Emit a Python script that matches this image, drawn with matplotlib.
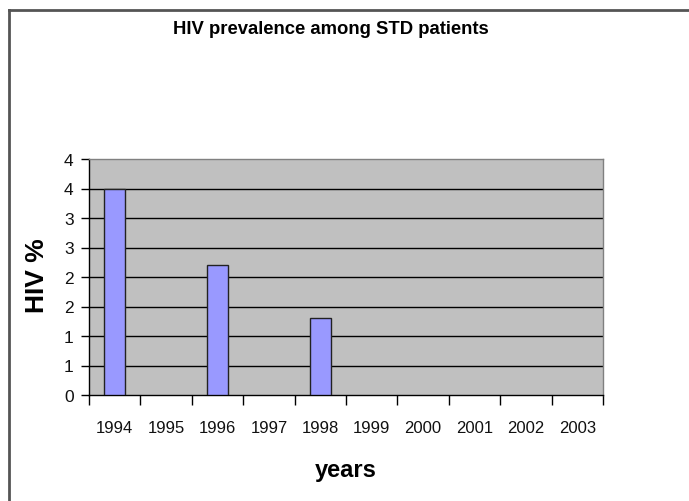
import numpy as np
import matplotlib
matplotlib.use('Agg')
import matplotlib.pyplot as plt
from matplotlib.lines import Line2D

years = ['1994', '1995', '1996', '1997', '1998', '1999', '2000', '2001', '2002', '2003']
hiv_pct = [3.5, np.nan, 2.2, np.nan, 1.3, np.nan, np.nan, np.nan, np.nan, np.nan]
ytick_vals = [0, 0.5, 1, 1.5, 2, 2.5, 3, 3.5, 4]
ytick_txt = ['0', '1', '1', '2', '2', '3', '3', '4', '4']

plt.rcParams['font.family'] = ['Liberation Sans', 'DejaVu Sans']

fig = plt.figure(figsize=(6.89, 5.02), dpi=100)
W, H = 689, 502
ax = fig.add_axes([89 / W, 1 - 396 / H, (603 - 89) / W, (396 - 160) / H])
ax.set_facecolor('#C0C0C0')

x = np.arange(len(years))
vals = np.array(hiv_pct, dtype=float)
ok = ~np.isnan(vals)
ax.bar(x[ok], vals[ok], width=0.41, color='#9999FF', edgecolor='#222222', linewidth=1, zorder=3)

ax.set_xlim(-0.5, len(years) - 0.5)
ax.set_ylim(0, 4)
ax.set_yticks(ytick_vals)
ax.set_yticklabels(ytick_txt, fontsize=12.5, color='#111111')
for v in ytick_vals[1:-1]:
    ax.axhline(v, color='black', lw=1, zorder=1)

ax.set_xticks(x)
ax.set_xticklabels(years, fontsize=12, color='#111111')
ax.set_xticks(np.arange(len(years) + 1) - 0.5, minor=True)
ax.tick_params(axis='x', which='major', length=0, pad=18)
ax.tick_params(axis='x', which='minor', length=7, width=1, color='black', direction='out')
ax.tick_params(axis='y', length=6, width=1, color='black', direction='out', pad=5)

ax.spines['left'].set_color('black')
ax.spines['bottom'].set_color('black')
ax.spines['top'].set_color('#808080')
ax.spines['right'].set_color('#808080')
for s in ax.spines.values():
    s.set_linewidth(1)

fig.text(331 / W, 1 - 30 / H, 'HIV prevalence among STD patients', ha='center', va='center',
         fontsize=13.3, fontweight='bold')
fig.text(37 / W, 1 - 276 / H, 'HIV %', ha='center', va='center', rotation=90,
         fontsize=19, fontweight='bold')
fig.text(346 / W, 1 - 471 / H, 'years', ha='center', va='center',
         fontsize=17, fontweight='bold')

# chart frame
fig.add_artist(Line2D([8.5 / W, 8.5 / W], [0, 1 - 10.5 / H], color='#555555', lw=2))
fig.add_artist(Line2D([8.5 / W, 1], [1 - 10.5 / H, 1 - 10.5 / H], color='#555555', lw=2))

fig.savefig('out.png', dpi=100)
